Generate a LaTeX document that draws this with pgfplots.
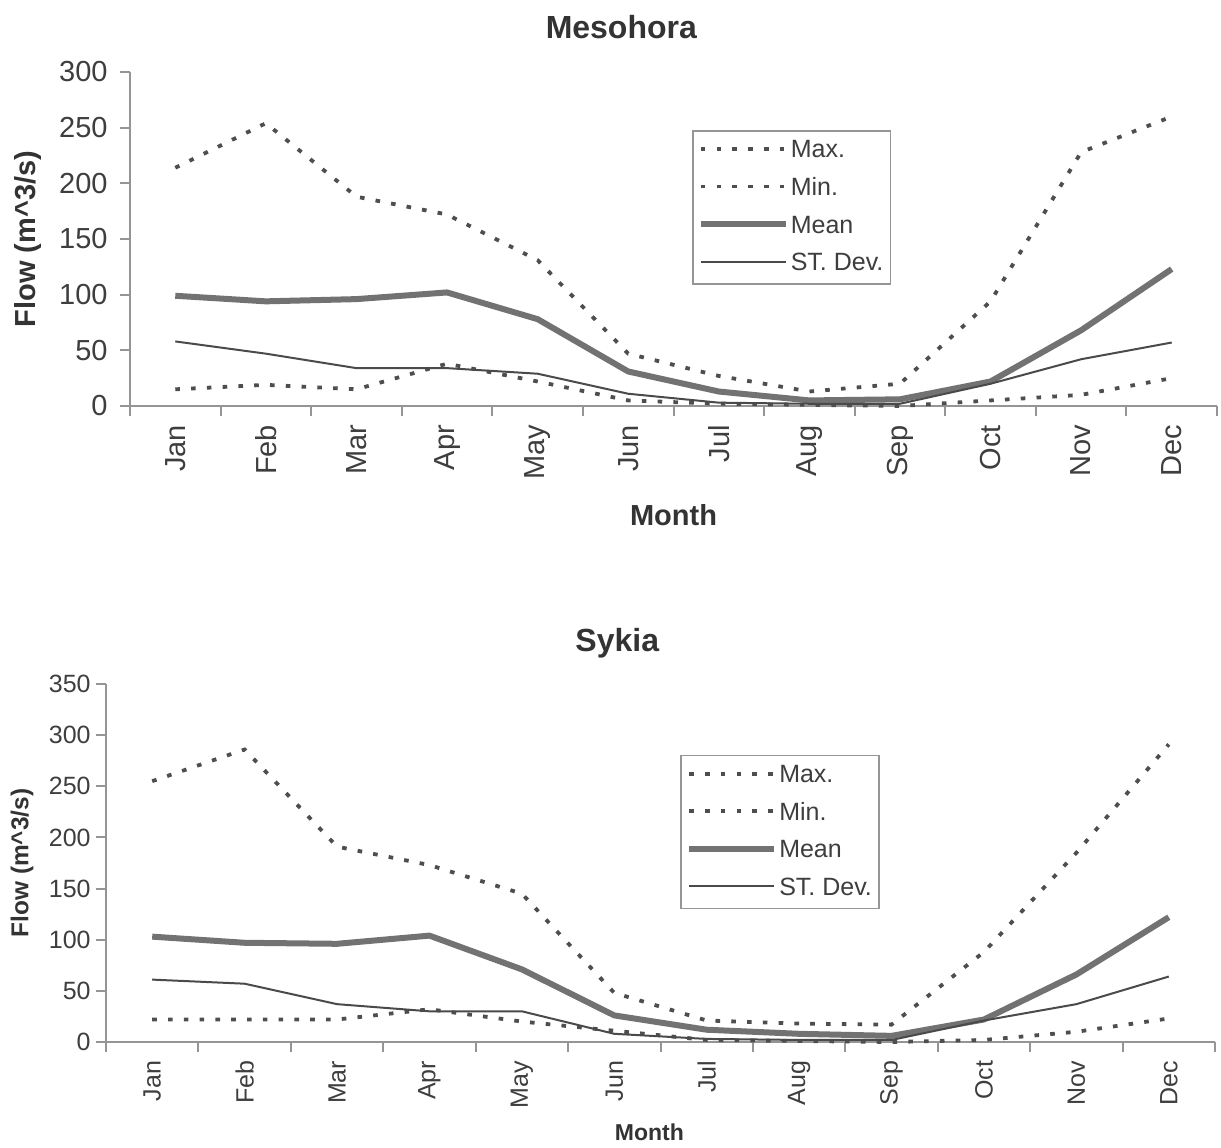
\documentclass[border=0pt]{standalone}
\usepackage{pgfplots}
\usepackage{pgfplotstable}
\pgfplotsset{compat=1.18}
\usepackage{fontspec}
\setmainfont{Liberation Sans}

\definecolor{axisgray}{HTML}{959595}
\definecolor{tickgray}{HTML}{3E3E3E}
\definecolor{titlegray}{HTML}{333333}
\definecolor{dotgray}{HTML}{4E4E4E}
\definecolor{meangray}{HTML}{727272}
\definecolor{sdgray}{HTML}{4A4A4A}

% monthly flow statistics, m^3/s
\pgfplotstableread{
m  max  min  mean  sd
1  214  15   99    58
2  254  19   94    47
3  188  15   96    34
4  172  38   102   34
5  131  22   78    29
6  47   5    31    11
7  27   2    13    3
8  13   1    5     2
9  20   0    6     2
10 94   5    22    20
11 228  10   68    42
12 260  25   123   57
}\mesohora

\pgfplotstableread{
m  max  min  mean  sd
1  255  22   103   61
2  286  22   97    57
3  191  22   96    37
4  173  32   104   30
5  145  20   71    30
6  48   11   26    8
7  21   2    12    3
8  18   1    8     2
9  17   0    6     2
10 88   2    22    21
11 185  10   66    37
12 291  23   122   64
}\sykia

\pgfplotsset{
  dotline/.style={draw=dotgray, line width=1.9pt, dash pattern=on 2.3pt off 5.6pt},
  meanline/.style={draw=meangray, line width=3pt, line join=round},
  sdline/.style={draw=sdgray, line width=1pt, line join=round},
  flowaxis/.style={
    scale only axis, clip=false,
    axis x line=bottom, axis y line=left,
    axis line style={-, draw=axisgray, line width=1pt},
    xmin=0.5, xmax=12.5, ymin=0,
    xtick={1,...,12},
    xticklabels={Jan,Feb,Mar,Apr,May,Jun,Jul,Aug,Sep,Oct,Nov,Dec},
    minor xtick={0.5,1.5,...,12.5},
    major x tick style={draw=none},
    tick align=outside,
    tick style={draw=axisgray, line width=1pt},
    minor tick length=5pt, major tick length=5pt,
    xticklabel style={rotate=90, anchor=east, inner sep=0pt, text=tickgray},
    yticklabel style={anchor=east, inner sep=0pt, text=tickgray},
    /pgf/number format/assume math mode=true,
    legend cell align=left,
    legend image code/.code={\draw[##1] (0pt,1pt) -- (42.5pt,1pt);},
  },
  flowlegend/.style={
    legend style={draw=axisgray, line width=0.8pt, fill=white,
      font=\fontsize{12.5}{14}\selectfont, text=tickgray,
      inner xsep=2.5pt, inner ysep=4pt, row sep=6.8pt, column sep=0pt,
      nodes={inner xsep=1pt, inner ysep=0pt, text height=9.5pt, text depth=2.5pt}},
  },
}

\begin{document}
\begin{tikzpicture}
\useasboundingbox (0,0) rectangle (610.5pt,573.5pt);

% Mesohora station
\begin{axis}[flowaxis, flowlegend,
  at={(65pt,370.5pt)}, anchor=south west,
  width=543.5pt, height=167pt,
  ymax=300, ytick={0,50,...,300},
  ticklabel style={font=\fontsize{14.5}{16}\selectfont},
  xticklabel shift=4.3pt, yticklabel shift=6pt,
  legend style={at={(0.517,0.826)}, anchor=north west},
]
\addplot[dotline] table[x=m, y=max] {\mesohora};
\addlegendentry{Max.}
\addplot[dotline] table[x=m, y=min] {\mesohora};
\addlegendentry{Min.}
\addplot[meanline] table[x=m, y=mean] {\mesohora};
\addlegendentry{Mean}
\addplot[sdline] table[x=m, y=sd] {\mesohora};
\addlegendentry{ST. Dev.}
\node[font=\bfseries\fontsize{16}{18}\selectfont, text=titlegray]
  at (rel axis cs:0.452,1) [yshift=22.5pt] {Mesohora};
\node[xshift=-51pt, rotate=90, font=\bfseries\fontsize{14.5}{16}\selectfont, text=titlegray]
  at (rel axis cs:0,0.5) {Flow (m\textasciicircum 3/s)};
\node[font=\bfseries\fontsize{14.5}{16}\selectfont, text=titlegray]
  at (rel axis cs:0.5,0) [yshift=-54.5pt] {Month};
\end{axis}

% Sykia station
\begin{axis}[flowaxis, flowlegend,
  at={(53pt,52.5pt)}, anchor=south west,
  width=554.5pt, height=179pt,
  ymax=350, ytick={0,50,...,350},
  ticklabel style={font=\fontsize{12.5}{14}\selectfont},
  xticklabel shift=4.2pt, yticklabel shift=2.5pt,
  legend style={at={(0.518,0.802)}, anchor=north west},
]
\addplot[dotline] table[x=m, y=max] {\sykia};
\addlegendentry{Max.}
\addplot[dotline] table[x=m, y=min] {\sykia};
\addlegendentry{Min.}
\addplot[meanline] table[x=m, y=mean] {\sykia};
\addlegendentry{Mean}
\addplot[sdline] table[x=m, y=sd] {\sykia};
\addlegendentry{ST. Dev.}
\node[font=\bfseries\fontsize{16}{18}\selectfont, text=titlegray]
  at (rel axis cs:0.461,1) [yshift=20.3pt] {Sykia};
\node[xshift=-42pt, rotate=90, font=\bfseries\fontsize{12.2}{14}\selectfont, text=titlegray]
  at (rel axis cs:0,0.5) {Flow (m\textasciicircum 3/s)};
\node[font=\bfseries\fontsize{11.5}{13}\selectfont, text=titlegray]
  at (rel axis cs:0.49,0) [yshift=-45pt] {Month};
\end{axis}
\end{tikzpicture}
\end{document}
